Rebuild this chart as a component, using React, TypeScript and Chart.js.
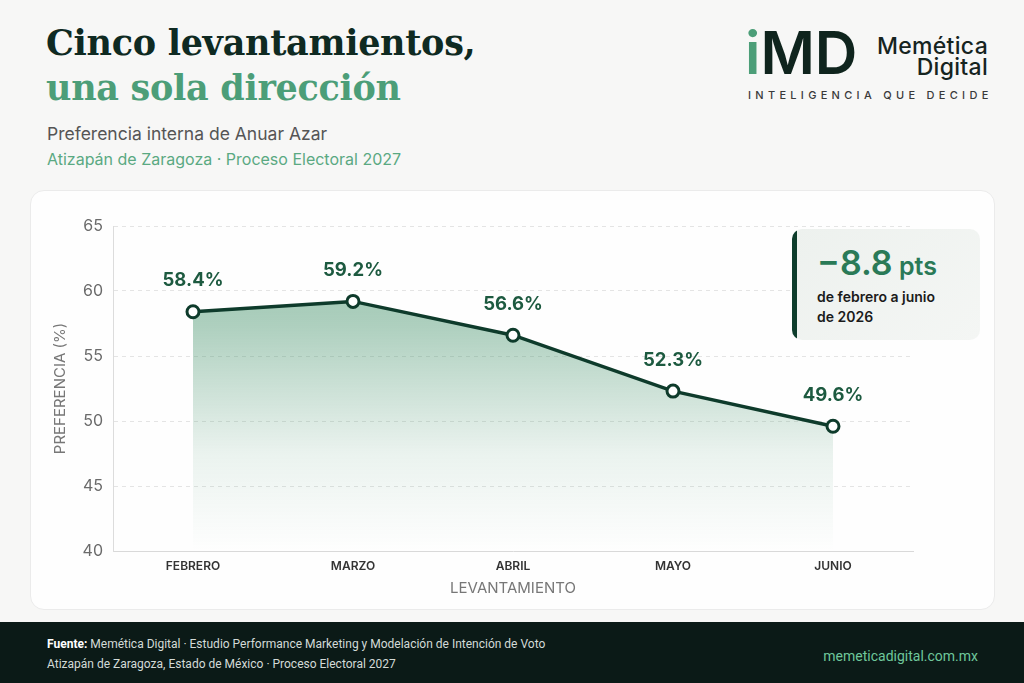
import React, { useEffect, useRef } from "react";
import { Chart, registerables } from "chart.js";

Chart.register(...registerables);

const categories = ["FEBRERO", "MARZO", "ABRIL", "MAYO", "JUNIO"];
const preference = [58.4, 59.2, 56.6, 52.3, 49.6];
const yTicks = [40, 45, 50, 55, 60, 65];

const title1 = "Cinco levantamientos,";
const title2 = "una sola dirección";
const subtitle = "Preferencia interna de Anuar Azar";
const subtitle2 = "Atizapán de Zaragoza · Proceso Electoral 2027";

const SANS = "Inter, 'Noto Sans', sans-serif";

const valueLabels = {
  id: "valueLabels",
  afterDatasetsDraw(chart: any) {
    const ctx = chart.ctx;
    const meta = chart.getDatasetMeta(0);
    ctx.save();
    ctx.font = "700 18.5px Inter";
    ctx.fillStyle = "#1d5a40";
    ctx.textAlign = "center";
    ctx.textBaseline = "middle";
    meta.data.forEach((pt: any, i: number) => {
      ctx.fillText(preference[i].toFixed(1) + "%", pt.x, pt.y - 31);
    });
    ctx.restore();
  },
};

export default function App() {
  const canvasRef = useRef<HTMLCanvasElement | null>(null);

  useEffect(() => {
    document.body.style.margin = "0";
    const canvas = canvasRef.current;
    if (!canvas) return;
    const chart = new Chart(canvas, {
      type: "line",
      data: {
        labels: categories,
        datasets: [
          {
            data: preference,
            borderColor: "#0e3b2b",
            borderWidth: 3.5,
            pointRadius: 6,
            pointBorderWidth: 3,
            pointBackgroundColor: "#ffffff",
            pointBorderColor: "#0e3b2b",
            tension: 0,
            fill: "start",
            backgroundColor: (c: any) => {
              const area = c.chart.chartArea;
              if (!area) return "rgba(62,143,102,0.3)";
              const g = c.chart.ctx.createLinearGradient(0, area.top, 0, area.bottom);
              g.addColorStop(0, "rgba(62,143,102,0.58)");
              g.addColorStop(0.3, "rgba(62,143,102,0.42)");
              g.addColorStop(0.7, "rgba(62,143,102,0.1)");
              g.addColorStop(1, "rgba(62,143,102,0.0)");
              return g;
            },
          },
        ],
      },
      options: {
        responsive: true,
        maintainAspectRatio: false,
        animation: false,
        layout: { padding: { left: 0, top: 36, right: 82, bottom: 0 } },
        plugins: { legend: { display: false }, tooltip: { enabled: false } },
        scales: {
          x: {
            offset: true,
            grid: { display: false, drawTicks: false },
            border: { display: true, color: "#d9d9d9", width: 1 },
            ticks: {
              color: "#333333",
              font: { family: "Inter", size: 12, weight: 600 },
              padding: 8,
              maxRotation: 0,
            },
            title: {
              display: true,
              text: "LEVANTAMIENTO",
              color: "#777777",
              font: { family: "Inter", size: 15, weight: 400 },
              padding: { top: 0, bottom: 13 },
            },
            afterFit: (s: any) => {
              s.height = 59;
            },
          },
          y: {
            min: yTicks[0],
            max: yTicks[yTicks.length - 1],
            ticks: {
              stepSize: yTicks[1] - yTicks[0],
              color: "#6b6b6b",
              font: { family: "Inter", size: 16 },
              padding: 10,
            },
            grid: { color: "#e4e4e4", drawTicks: false, lineWidth: 1 },
            border: { display: true, color: "#dcdcdc", dash: [4, 4] },
            title: {
              display: true,
              text: "PREFERENCIA (%)",
              color: "#777777",
              font: { family: "Inter", size: 15, weight: 400 },
              padding: { top: 21, bottom: 0 },
            },
            afterFit: (s: any) => {
              s.width = 83;
            },
          },
        },
      },
      plugins: [valueLabels],
    } as any);
    return () => chart.destroy();
  }, []);

  const delta = (preference[preference.length - 1] - preference[0]).toFixed(1).replace("-", "−");

  return (
    <div
      style={{
        position: "fixed",
        left: 0,
        top: 0,
        width: 1024,
        height: 683,
        overflow: "hidden",
        background: "#f7f7f6",
        fontFamily: SANS,
      }}
    >
      {/* Title */}
      <div
        style={{
          position: "absolute",
          left: 46,
          top: 20,
          fontFamily: "'DejaVu Serif', serif",
          fontWeight: 700,
          fontSize: 35,
          lineHeight: "45px",
          letterSpacing: -0.3,
          whiteSpace: "nowrap",
        }}
      >
        <div style={{ color: "#0f2a22" }}>{title1}</div>
        <div style={{ color: "#4c9e78" }}>{title2}</div>
      </div>
      <div
        style={{
          position: "absolute",
          left: 47,
          top: 125,
          fontSize: 17.5,
          lineHeight: "17.5px",
          color: "#555555",
          whiteSpace: "nowrap",
        }}
      >
        {subtitle}
      </div>
      <div
        style={{
          position: "absolute",
          left: 47,
          top: 151,
          fontSize: 16,
          lineHeight: "16px",
          color: "#5aa982",
          whiteSpace: "nowrap",
        }}
      >
        {subtitle2}
      </div>

      {/* Logo */}
      <div
        style={{
          position: "absolute",
          left: 745,
          top: 23,
          fontSize: 59,
          lineHeight: "59px",
          fontWeight: 600,
          letterSpacing: 0,
          whiteSpace: "nowrap",
        }}
      >
        <span style={{ color: "#4c9e78" }}>i</span>
        <span style={{ color: "#0f241d" }}>MD</span>
      </div>
      <div
        style={{
          position: "absolute",
          right: 36,
          top: 36,
          fontSize: 23,
          lineHeight: "21px",
          fontWeight: 500,
          color: "#16241f",
          textAlign: "right",
          letterSpacing: 0.3,
          whiteSpace: "nowrap",
        }}
      >
        <div>Memética</div>
        <div>Digital</div>
      </div>
      <div
        style={{
          position: "absolute",
          left: 748,
          top: 90,
          fontSize: 11,
          lineHeight: "11px",
          fontWeight: 500,
          letterSpacing: 4.3,
          color: "#3a3a3a",
          whiteSpace: "nowrap",
        }}
      >
        INTELIGENCIA QUE DECIDE
      </div>

      {/* Card */}
      <div
        style={{
          position: "absolute",
          left: 30,
          top: 190,
          width: 963,
          height: 418,
          borderRadius: 14,
          border: "1px solid #ebebeb",
          background: "#fefefe",
        }}
      />
      <div style={{ position: "absolute", left: 30, top: 190, width: 965, height: 420 }}>
        <canvas ref={canvasRef} />
      </div>

      {/* Annotation box */}
      <div
        style={{
          position: "absolute",
          left: 792,
          top: 229,
          width: 188,
          height: 111,
          borderRadius: 10,
          background: "linear-gradient(135deg, #edf1ee 0%, #f4f6f4 100%)",
          overflow: "hidden",
        }}
      >
        <div
          style={{
            position: "absolute",
            left: 0,
            top: 0,
            width: 5,
            height: 111,
            background: "#0e3d2c",
          }}
        />
        <div
          style={{
            position: "absolute",
            left: 25,
            top: 16,
            color: "#2a7a57",
            fontWeight: 600,
            whiteSpace: "nowrap",
            lineHeight: "36px",
          }}
        >
          <span style={{ fontSize: 34 }}>{delta}</span>
          <span style={{ fontSize: 25 }}> pts</span>
        </div>
        <div
          style={{
            position: "absolute",
            left: 25,
            top: 58,
            fontSize: 14,
            lineHeight: "20px",
            fontWeight: 600,
            color: "#1b1b1b",
            whiteSpace: "nowrap",
          }}
        >
          <div>de febrero a junio</div>
          <div>de 2026</div>
        </div>
      </div>

      {/* Footer */}
      <div
        style={{
          position: "absolute",
          left: 0,
          top: 622,
          width: 1024,
          height: 61,
          background: "#0b1a17",
        }}
      >
        <div
          style={{
            position: "absolute",
            left: 47,
            top: 12,
            fontFamily: "Roboto, Inter, sans-serif",
            fontSize: 12,
            lineHeight: "20px",
            color: "#d3dad7",
            whiteSpace: "nowrap",
          }}
        >
          <div>
            <span style={{ color: "#ffffff", fontWeight: 700 }}>Fuente:</span> Memética Digital · Estudio
            Performance Marketing y Modelación de Intención de Voto
          </div>
          <div>Atizapán de Zaragoza, Estado de México · Proceso Electoral 2027</div>
        </div>
        <div
          style={{
            position: "absolute",
            right: 46,
            top: 25,
            fontFamily: "Roboto, Inter, sans-serif",
            fontSize: 14,
            lineHeight: "18px",
            color: "#6fc79b",
            whiteSpace: "nowrap",
          }}
        >
          memeticadigital.com.mx
        </div>
      </div>
    </div>
  );
}
